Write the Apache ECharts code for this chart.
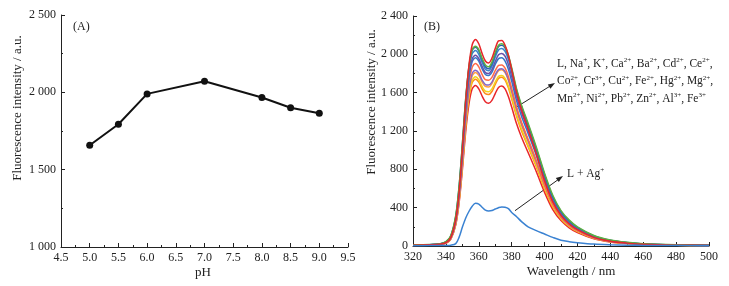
<!DOCTYPE html>
<html><head><meta charset="utf-8">
<script src="https://cdn.jsdelivr.net/npm/echarts@6/dist/echarts.min.js"></script>
<style>html,body{margin:0;padding:0;background:#fff}#c{width:729px;height:286px}</style>
</head><body><div id="c"></div>
<script>
// ---- Panel A data ----
const pH = [5.0, 5.5, 6.0, 7.0, 8.0, 8.5, 9.0];
const intensityA = [1658, 1794, 1990, 2072, 1967, 1900, 1865];

// ---- Panel B data ----
const wl = [320,330,336,340,343,346,348,350,352,354,356,358,360,362,364,366,368,370,372,374,376,378,380,383,386,390,395,400,405,410,415,420,430,440,450,460,480,500];
const cRed1   = [8,12,18,35,90,280,560,1000,1500,1880,2100,2155,2110,2010,1930,1910,1960,2060,2140,2145,2095,1990,1840,1600,1420,1220,960,680,460,320,230,170,90,50,30,18,9,5];
const cGreen  = [10,15,22,45,110,320,620,1060,1530,1870,2050,2085,2050,1960,1890,1870,1920,2020,2095,2110,2080,1990,1860,1640,1470,1280,1030,760,530,370,270,200,110,62,38,24,12,6];
const cBlue1  = [9,14,20,42,105,310,610,1050,1520,1860,2040,2075,2035,1945,1870,1850,1900,2000,2080,2095,2065,1975,1845,1625,1455,1265,1015,745,515,360,262,194,106,60,36,22,11,6];
const cBlue2  = [9,14,20,40,100,300,590,1020,1490,1830,2005,2040,2000,1915,1845,1830,1875,1970,2045,2060,2030,1945,1815,1600,1435,1245,1000,735,505,352,255,190,103,58,35,21,11,5];
const cPurp1  = [8,13,19,38,95,285,560,980,1440,1780,1955,1990,1955,1875,1810,1800,1840,1925,1995,2010,1980,1895,1770,1560,1395,1210,970,710,490,340,245,180,98,55,33,20,10,5];
const cBlue3  = [8,13,18,37,92,278,545,955,1410,1750,1925,1965,1930,1850,1790,1780,1815,1895,1955,1965,1930,1845,1720,1515,1355,1175,945,690,475,330,238,175,95,53,32,19,10,5];
const cOrRed  = [7,12,17,34,85,262,520,915,1360,1690,1865,1905,1870,1790,1735,1730,1760,1830,1885,1890,1855,1770,1645,1450,1290,1115,890,645,440,305,220,162,87,48,29,17,9,4];
const cPurp2  = [7,11,16,32,82,250,500,880,1310,1630,1800,1835,1805,1730,1685,1680,1710,1785,1840,1850,1820,1740,1620,1430,1275,1100,880,640,438,303,218,160,86,48,29,17,9,4];
const cOrange1= [7,11,16,31,80,245,490,865,1290,1605,1775,1810,1780,1710,1665,1660,1695,1770,1830,1840,1810,1730,1610,1420,1265,1090,870,630,430,298,215,158,85,47,28,17,8,4];
const cYellow = [7,11,16,30,78,238,475,840,1255,1565,1730,1765,1735,1665,1615,1610,1640,1710,1770,1780,1750,1670,1555,1370,1220,1050,840,608,415,288,207,152,82,45,27,16,8,4];
const cOrange2= [7,10,15,30,76,232,465,825,1235,1540,1705,1740,1710,1640,1590,1580,1612,1685,1747,1760,1730,1650,1535,1350,1200,1035,825,595,405,282,203,150,80,44,26,16,8,4];
const cRed2   = [6,10,14,28,72,220,445,790,1185,1480,1640,1675,1640,1565,1505,1490,1520,1590,1655,1670,1640,1560,1450,1275,1135,975,775,560,380,265,190,140,75,42,25,15,7,4];
const cAg     = [3,4,5,6,9,25,90,195,290,360,415,445,438,405,375,366,370,386,400,408,405,390,350,305,255,200,160,125,90,60,45,35,20,13,9,6,4,3];

const xTicksA = {min: 4.5, max: 9.5, interval: 0.5};
const yTicksA = {min: 1000, max: 2500, interval: 500};
const xTicksB = {min: 320, max: 500, interval: 20};
const yTicksB = {min: 0, max: 2400, interval: 400};

const curvesB = [
  {data: cRed2,   color: '#e8262a'},
  {data: cOrange2,color: '#ff8a1c'},
  {data: cYellow, color: '#f2d21e'},
  {data: cOrange1,color: '#ffa040'},
  {data: cPurp2,  color: '#8466c6'},
  {data: cOrRed,  color: '#ff6a48'},
  {data: cBlue3,  color: '#3476c8'},
  {data: cPurp1,  color: '#6a4fa8'},
  {data: cBlue2,  color: '#3a86cc'},
  {data: cBlue1,  color: '#2a5fb0'},
  {data: cGreen,  color: '#5cb040'},
  {data: cRed1,   color: '#e8262a'}
];

const FONT = '"Liberation Serif", "DejaVu Serif", serif';
const thou = v => String(v).replace(/\B(?=(\d{3})+(?!\d))/g, ' ');

function axisCommon() {
  return {
    axisLine: {show: true, onZero: false, lineStyle: {color: '#222', width: 1}},
    axisTick: {show: true, inside: true, length: 4, lineStyle: {color: '#222'}},
    minorTick: {show: true, splitNumber: 2, length: 2, lineStyle: {color: '#222'}},
    splitLine: {show: false},
    axisLabel: {color: '#222', fontFamily: FONT, fontSize: 12, margin: 5}
  };
}

const zip = (xs, ys) => xs.map((x, i) => [x, ys[i]]);

const series = [
  {
    type: 'line', xAxisIndex: 0, yAxisIndex: 0,
    data: zip(pH, intensityA),
    symbol: 'circle', symbolSize: 7,
    lineStyle: {color: '#111', width: 2},
    itemStyle: {color: '#111'},
    silent: true, animation: false
  }
];
curvesB.forEach(c => series.push({
  type: 'line', xAxisIndex: 1, yAxisIndex: 1,
  data: zip(wl, c.data), smooth: 0.3, symbol: 'none',
  lineStyle: {color: c.color, width: 1.5}, silent: true, animation: false
}));
series.push({
  type: 'line', xAxisIndex: 1, yAxisIndex: 1,
  data: zip(wl, cAg), smooth: 0.3, symbol: 'none',
  lineStyle: {color: '#3a82d2', width: 1.5}, silent: true, animation: false
});

const sup = {fontSize: 7, verticalAlign: 'top', lineHeight: 7, padding: [2, 0, 0, 0], fontFamily: FONT, fill: '#222'};
function ion(name, charge) { return name + '{s|' + charge + '}'; }

const chart = echarts.init(document.getElementById('c'), null, {renderer: 'canvas'});
chart.setOption({
  animation: false,
  backgroundColor: '#fff',
  grid: [
    {left: 61, top: 15, width: 287, height: 232},
    {left: 413, top: 16, width: 296, height: 230}
  ],
  xAxis: [
    Object.assign(axisCommon(), {type: 'value', gridIndex: 0, min: xTicksA.min, max: xTicksA.max, interval: xTicksA.interval,
      axisLabel: Object.assign(axisCommon().axisLabel, {formatter: v => v.toFixed(1)})}),
    Object.assign(axisCommon(), {type: 'value', gridIndex: 1, min: xTicksB.min, max: xTicksB.max, interval: xTicksB.interval})
  ],
  yAxis: [
    Object.assign(axisCommon(), {type: 'value', gridIndex: 0, min: yTicksA.min, max: yTicksA.max, interval: yTicksA.interval,
      axisLabel: Object.assign(axisCommon().axisLabel, {formatter: thou})}),
    Object.assign(axisCommon(), {type: 'value', gridIndex: 1, min: yTicksB.min, max: yTicksB.max, interval: yTicksB.interval,
      axisLabel: Object.assign(axisCommon().axisLabel, {formatter: thou})})
  ],
  series: series,
  graphic: [
    {type: 'text', left: 73, top: 21, style: {text: '(A)', font: '12px ' + FONT, fill: '#222'}},
    {type: 'text', left: 424, top: 21, style: {text: '(B)', font: '12px ' + FONT, fill: '#222'}},
    {type: 'text', x: 18, y: 108, rotation: Math.PI / 2, style: {text: 'Fluorescence intensity / a.u.', font: '13px ' + FONT, fill: '#222', align: 'center', verticalAlign: 'middle'}},
    {type: 'text', x: 372, y: 102, rotation: Math.PI / 2, style: {text: 'Fluorescence intensity / a.u.', font: '13px ' + FONT, fill: '#222', align: 'center', verticalAlign: 'middle'}},
    {type: 'text', x: 203, y: 273, style: {text: 'pH', font: '13px ' + FONT, fill: '#222', align: 'center', verticalAlign: 'middle'}},
    {type: 'text', x: 571, y: 272, style: {text: 'Wavelength / nm', font: '13px ' + FONT, fill: '#222', align: 'center', verticalAlign: 'middle'}},
    {type: 'text', left: 557, top: 55, style: {
      text: [
        'L, ' + ion('Na','+') + ', ' + ion('K','+') + ', ' + ion('Ca','2+') + ', ' + ion('Ba','2+') + ', ' + ion('Cd','2+') + ', ' + ion('Ce','2+') + ',',
        ion('Co','2+') + ', ' + ion('Cr','3+') + ', ' + ion('Cu','2+') + ', ' + ion('Fe','2+') + ', ' + ion('Hg','2+') + ', ' + ion('Mg','2+') + ',',
        ion('Mn','2+') + ', ' + ion('Ni','2+') + ', ' + ion('Pb','2+') + ', ' + ion('Zn','2+') + ', ' + ion('Al','3+') + ', ' + ion('Fe','3+')
      ].join('\n'),
      font: '11.5px ' + FONT, fill: '#222', lineHeight: 17.5,
      rich: {s: sup}
    }},
    {type: 'text', left: 567, top: 165, style: {text: 'L + Ag{s|+}', font: '11.5px ' + FONT, fill: '#222', lineHeight: 17, rich: {s: sup}}},
    {type: 'line', shape: {x1: 515, y1: 108, x2: 551, y2: 85.5}, style: {stroke: '#222', lineWidth: 1}},
    {type: 'polygon', shape: {points: [[555, 83], [550.4, 88.8], [547.8, 84.6]]}, style: {fill: '#222'}},
    {type: 'line', shape: {x1: 515, y1: 210.7, x2: 559, y2: 179}, style: {stroke: '#222', lineWidth: 1}},
    {type: 'polygon', shape: {points: [[563, 176], [558.8, 182.1], [555.8, 178.1]]}, style: {fill: '#222'}}
  ]
});
</script></body></html>
